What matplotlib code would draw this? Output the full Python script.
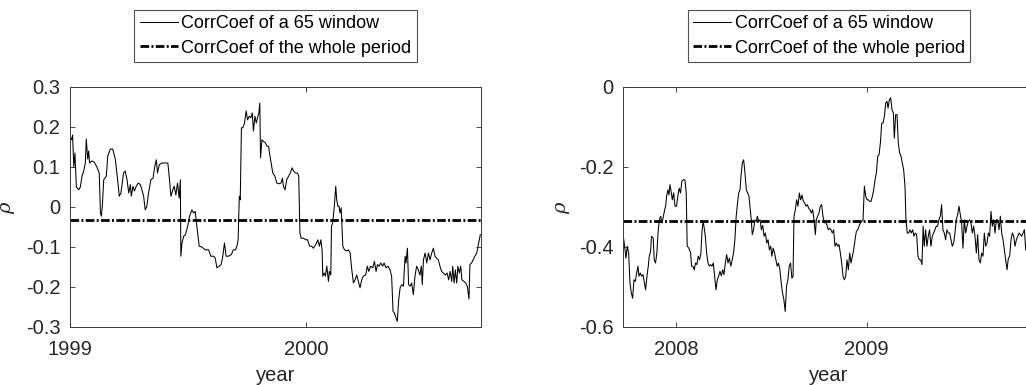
import matplotlib
matplotlib.use("Agg")
import matplotlib.pyplot as plt
import numpy as np

# Rolling 65-day correlation coefficient, 1999-2000
years_a = [1999.000, 1999.007, 1999.011, 1999.016, 1999.021, 1999.027, 1999.037, 1999.044, 1999.051, 1999.058,
           1999.065, 1999.069, 1999.075, 1999.079, 1999.083, 1999.093, 1999.103, 1999.114, 1999.124, 1999.129,
           1999.133, 1999.137, 1999.143, 1999.154, 1999.160, 1999.171, 1999.181, 1999.192, 1999.202, 1999.209,
           1999.216, 1999.227, 1999.234, 1999.242, 1999.249, 1999.256, 1999.260, 1999.267, 1999.273, 1999.281,
           1999.290, 1999.298, 1999.305, 1999.312, 1999.319, 1999.326, 1999.333, 1999.343, 1999.352, 1999.359,
           1999.366, 1999.371, 1999.379, 1999.390, 1999.404, 1999.415, 1999.422, 1999.428, 1999.436, 1999.442,
           1999.449, 1999.456, 1999.463, 1999.468, 1999.470, 1999.475, 1999.482, 1999.489, 1999.499, 1999.507,
           1999.517, 1999.524, 1999.531, 1999.538, 1999.548, 1999.559, 1999.573, 1999.588, 1999.597, 1999.609,
           1999.616, 1999.623, 1999.633, 1999.641, 1999.648, 1999.655, 1999.662, 1999.672, 1999.684, 1999.693,
           1999.702, 1999.708, 1999.713, 1999.718, 1999.722, 1999.727, 1999.733, 1999.740, 1999.747, 1999.753,
           1999.760, 1999.767, 1999.773, 1999.778, 1999.784, 1999.790, 1999.795, 1999.801, 1999.805, 1999.808,
           1999.814, 1999.821, 1999.829, 1999.835, 1999.842, 1999.846, 1999.853, 1999.860, 1999.869, 1999.877,
           1999.887, 1999.895, 1999.901, 1999.905, 1999.912, 1999.919, 1999.927, 1999.934, 1999.942, 1999.948,
           1999.956, 1999.965, 1999.970, 1999.975, 1999.980, 1999.990, 2000.000, 2000.008, 2000.016, 2000.025,
           2000.032, 2000.042, 2000.051, 2000.058, 2000.064, 2000.069, 2000.072, 2000.078, 2000.083, 2000.089,
           2000.096, 2000.100, 2000.106, 2000.109, 2000.114, 2000.121, 2000.127, 2000.131, 2000.136, 2000.141,
           2000.145, 2000.150, 2000.157, 2000.164, 2000.174, 2000.181, 2000.188, 2000.195, 2000.202, 2000.209,
           2000.216, 2000.225, 2000.230, 2000.237, 2000.244, 2000.254, 2000.261, 2000.267, 2000.275, 2000.284,
           2000.291, 2000.298, 2000.304, 2000.311, 2000.318, 2000.326, 2000.332, 2000.340, 2000.349, 2000.357,
           2000.364, 2000.370, 2000.376, 2000.383, 2000.388, 2000.394, 2000.400, 2000.407, 2000.414, 2000.421,
           2000.425, 2000.431, 2000.436, 2000.442, 2000.449, 2000.456, 2000.463, 2000.470, 2000.477, 2000.484,
           2000.490, 2000.494, 2000.499, 2000.506, 2000.513, 2000.520, 2000.527, 2000.534, 2000.541, 2000.548,
           2000.555, 2000.562, 2000.569, 2000.576, 2000.583, 2000.592, 2000.599, 2000.606, 2000.612, 2000.619,
           2000.623, 2000.629, 2000.634, 2000.640, 2000.645, 2000.651, 2000.657, 2000.662, 2000.671, 2000.678,
           2000.685, 2000.692, 2000.696, 2000.703, 2000.710, 2000.717, 2000.725, 2000.732, 2000.736, 2000.740]
rho_a = [0.177, 0.168, 0.180, 0.100, 0.135, 0.050, 0.043, 0.050, 0.077, 0.090,
         0.110, 0.170, 0.120, 0.140, 0.110, 0.115, 0.112, 0.100, 0.085, -0.015,
         -0.023, 0.002, 0.068, 0.077, 0.127, 0.145, 0.145, 0.120, 0.068, 0.027,
         0.035, 0.085, 0.090, 0.068, 0.035, 0.056, 0.027, 0.052, 0.040, 0.052,
         0.060, 0.056, 0.043, 0.028, -0.007, 0.002, 0.035, 0.068, 0.072, 0.100,
         0.118, 0.085, 0.106, 0.110, 0.110, 0.110, 0.068, 0.027, 0.043, 0.052,
         0.030, 0.060, 0.022, 0.068, -0.123, -0.090, -0.073, -0.070, -0.048, -0.023,
         -0.007, -0.015, -0.011, -0.048, -0.098, -0.100, -0.107, -0.107, -0.123, -0.123,
         -0.128, -0.152, -0.148, -0.144, -0.123, -0.090, -0.123, -0.123, -0.119, -0.107,
         -0.107, -0.098, -0.082, 0.027, 0.018, 0.198, 0.198, 0.210, 0.240, 0.218,
         0.227, 0.223, 0.235, 0.190, 0.227, 0.210, 0.223, 0.235, 0.260, 0.123,
         0.168, 0.164, 0.160, 0.152, 0.152, 0.135, 0.110, 0.085, 0.077, 0.060,
         0.058, 0.060, 0.072, 0.052, 0.043, 0.068, 0.077, 0.085, 0.098, 0.090,
         0.085, 0.085, 0.077, -0.065, -0.078, -0.078, -0.082, -0.082, -0.098, -0.098,
         -0.103, -0.094, -0.082, -0.098, -0.082, -0.107, -0.173, -0.165, -0.173, -0.148,
         -0.186, -0.161, -0.170, -0.048, -0.040, 0.002, 0.052, 0.018, 0.002, 0.002,
         -0.015, -0.002, -0.098, -0.107, -0.110, -0.107, -0.115, -0.157, -0.190, -0.182,
         -0.170, -0.190, -0.202, -0.182, -0.173, -0.170, -0.148, -0.161, -0.148, -0.152,
         -0.136, -0.161, -0.144, -0.148, -0.140, -0.148, -0.140, -0.152, -0.148, -0.157,
         -0.173, -0.261, -0.265, -0.278, -0.286, -0.232, -0.202, -0.194, -0.198, -0.123,
         -0.140, -0.103, -0.194, -0.198, -0.190, -0.219, -0.173, -0.148, -0.157, -0.170,
         -0.148, -0.194, -0.132, -0.115, -0.140, -0.115, -0.132, -0.115, -0.103, -0.123,
         -0.128, -0.132, -0.148, -0.161, -0.165, -0.170, -0.165, -0.182, -0.161, -0.186,
         -0.148, -0.190, -0.157, -0.190, -0.148, -0.165, -0.148, -0.182, -0.186, -0.190,
         -0.198, -0.230, -0.144, -0.140, -0.132, -0.123, -0.115, -0.094, -0.082, -0.069]
whole_a = -0.032

# Rolling 65-day correlation coefficient, 2007-2009
years_b = [2007.724, 2007.731, 2007.738, 2007.745, 2007.752, 2007.759, 2007.766, 2007.773, 2007.780, 2007.787,
           2007.794, 2007.801, 2007.806, 2007.813, 2007.820, 2007.827, 2007.836, 2007.841, 2007.848, 2007.855,
           2007.860, 2007.867, 2007.872, 2007.881, 2007.886, 2007.893, 2007.900, 2007.906, 2007.913, 2007.920,
           2007.927, 2007.934, 2007.941, 2007.946, 2007.951, 2007.958, 2007.963, 2007.969, 2007.976, 2007.981,
           2007.988, 2007.995, 2008.003, 2008.010, 2008.017, 2008.024, 2008.031, 2008.038, 2008.047, 2008.054,
           2008.059, 2008.068, 2008.077, 2008.082, 2008.089, 2008.096, 2008.103, 2008.110, 2008.117, 2008.124,
           2008.131, 2008.136, 2008.142, 2008.147, 2008.154, 2008.161, 2008.168, 2008.175, 2008.182, 2008.189,
           2008.196, 2008.203, 2008.210, 2008.217, 2008.224, 2008.231, 2008.238, 2008.245, 2008.252, 2008.259,
           2008.266, 2008.273, 2008.280, 2008.288, 2008.295, 2008.302, 2008.309, 2008.316, 2008.323, 2008.329,
           2008.336, 2008.341, 2008.348, 2008.355, 2008.362, 2008.369, 2008.376, 2008.383, 2008.388, 2008.395,
           2008.400, 2008.407, 2008.414, 2008.421, 2008.427, 2008.434, 2008.441, 2008.448, 2008.455, 2008.462,
           2008.469, 2008.476, 2008.483, 2008.490, 2008.497, 2008.503, 2008.510, 2008.517, 2008.524, 2008.531,
           2008.538, 2008.545, 2008.552, 2008.559, 2008.566, 2008.573, 2008.580, 2008.587, 2008.594, 2008.601,
           2008.608, 2008.614, 2008.619, 2008.626, 2008.633, 2008.640, 2008.647, 2008.654, 2008.661, 2008.668,
           2008.675, 2008.682, 2008.689, 2008.696, 2008.703, 2008.710, 2008.717, 2008.724, 2008.731, 2008.736,
           2008.743, 2008.750, 2008.757, 2008.764, 2008.771, 2008.778, 2008.785, 2008.792, 2008.799, 2008.806,
           2008.813, 2008.820, 2008.827, 2008.834, 2008.841, 2008.848, 2008.855, 2008.862, 2008.869, 2008.876,
           2008.883, 2008.890, 2008.897, 2008.904, 2008.911, 2008.918, 2008.925, 2008.932, 2008.939, 2008.946,
           2008.953, 2008.960, 2008.967, 2008.974, 2008.981, 2008.988, 2008.995, 2009.002, 2009.009, 2009.016,
           2009.023, 2009.030, 2009.037, 2009.044, 2009.051, 2009.058, 2009.065, 2009.072, 2009.079, 2009.086,
           2009.093, 2009.100, 2009.107, 2009.112, 2009.119, 2009.126, 2009.133, 2009.140, 2009.145, 2009.152,
           2009.159, 2009.166, 2009.173, 2009.180, 2009.187, 2009.194, 2009.201, 2009.206, 2009.213, 2009.220,
           2009.227, 2009.234, 2009.241, 2009.248, 2009.255, 2009.262, 2009.269, 2009.276, 2009.283, 2009.290,
           2009.296, 2009.302, 2009.309, 2009.316, 2009.323, 2009.330, 2009.337, 2009.344, 2009.351, 2009.358,
           2009.365, 2009.372, 2009.379, 2009.386, 2009.393, 2009.400, 2009.407, 2009.414, 2009.421, 2009.428,
           2009.435, 2009.442, 2009.449, 2009.456, 2009.463, 2009.470, 2009.477, 2009.484, 2009.491, 2009.498,
           2009.505, 2009.512, 2009.519, 2009.526, 2009.533, 2009.540, 2009.547, 2009.554, 2009.561, 2009.568,
           2009.575, 2009.582, 2009.589, 2009.596, 2009.603, 2009.610, 2009.617, 2009.624, 2009.631, 2009.638,
           2009.645, 2009.652, 2009.659, 2009.666, 2009.673, 2009.680, 2009.687, 2009.694, 2009.701, 2009.708,
           2009.715, 2009.722, 2009.729, 2009.736, 2009.743, 2009.750, 2009.757, 2009.764, 2009.771, 2009.778,
           2009.785, 2009.792, 2009.799, 2009.806, 2009.813, 2009.820, 2009.827, 2009.834]
rho_b = [-0.373, -0.398, -0.428, -0.398, -0.415, -0.490, -0.515, -0.528, -0.482, -0.486,
         -0.465, -0.448, -0.473, -0.465, -0.473, -0.469, -0.494, -0.507, -0.473, -0.448,
         -0.423, -0.411, -0.373, -0.378, -0.432, -0.440, -0.415, -0.365, -0.332, -0.323,
         -0.340, -0.323, -0.307, -0.298, -0.273, -0.257, -0.270, -0.244, -0.265, -0.282,
         -0.265, -0.298, -0.298, -0.273, -0.253, -0.265, -0.236, -0.232, -0.232, -0.265,
         -0.398, -0.403, -0.415, -0.448, -0.448, -0.457, -0.440, -0.444, -0.423, -0.432,
         -0.415, -0.365, -0.336, -0.348, -0.373, -0.415, -0.440, -0.448, -0.444, -0.448,
         -0.440, -0.473, -0.507, -0.482, -0.473, -0.461, -0.472, -0.457, -0.469, -0.440,
         -0.419, -0.440, -0.428, -0.448, -0.432, -0.415, -0.382, -0.323, -0.290, -0.265,
         -0.257, -0.223, -0.190, -0.182, -0.215, -0.257, -0.265, -0.273, -0.298, -0.332,
         -0.369, -0.357, -0.332, -0.336, -0.323, -0.336, -0.332, -0.357, -0.346, -0.373,
         -0.365, -0.390, -0.382, -0.407, -0.398, -0.423, -0.403, -0.415, -0.432, -0.448,
         -0.440, -0.457, -0.490, -0.515, -0.532, -0.561, -0.498, -0.482, -0.448, -0.440,
         -0.478, -0.473, -0.323, -0.307, -0.282, -0.298, -0.265, -0.282, -0.270, -0.286,
         -0.290, -0.298, -0.294, -0.303, -0.307, -0.315, -0.307, -0.332, -0.369, -0.332,
         -0.323, -0.315, -0.298, -0.294, -0.323, -0.340, -0.336, -0.346, -0.357, -0.353,
         -0.357, -0.365, -0.357, -0.398, -0.390, -0.398, -0.394, -0.415, -0.440, -0.473,
         -0.482, -0.473, -0.432, -0.457, -0.415, -0.440, -0.423, -0.407, -0.382, -0.361,
         -0.357, -0.348, -0.340, -0.336, -0.332, -0.248, -0.273, -0.282, -0.282, -0.286,
         -0.286, -0.273, -0.257, -0.232, -0.215, -0.173, -0.169, -0.140, -0.090, -0.090,
         -0.073, -0.040, -0.036, -0.053, -0.032, -0.027, -0.057, -0.065, -0.128, -0.069,
         -0.069, -0.140, -0.165, -0.173, -0.190, -0.207, -0.248, -0.332, -0.365, -0.365,
         -0.357, -0.365, -0.357, -0.373, -0.365, -0.369, -0.423, -0.432, -0.432, -0.444,
         -0.348, -0.398, -0.357, -0.398, -0.373, -0.357, -0.398, -0.373, -0.365, -0.357,
         -0.348, -0.348, -0.332, -0.323, -0.294, -0.357, -0.365, -0.382, -0.357, -0.365,
         -0.365, -0.382, -0.398, -0.390, -0.365, -0.332, -0.319, -0.298, -0.319, -0.340,
         -0.403, -0.332, -0.365, -0.348, -0.336, -0.332, -0.340, -0.365, -0.348, -0.373,
         -0.415, -0.369, -0.432, -0.440, -0.415, -0.423, -0.365, -0.398, -0.390, -0.365,
         -0.373, -0.311, -0.348, -0.332, -0.365, -0.332, -0.332, -0.357, -0.323, -0.365,
         -0.382, -0.407, -0.432, -0.457, -0.428, -0.423, -0.382, -0.365, -0.373, -0.398,
         -0.382, -0.373, -0.365, -0.369, -0.373, -0.365, -0.357, -0.407]
whole_b = -0.335

xlims = [(1999.0, 2000.743), (2007.724, 2009.879)]
xticks = [[1999, 2000], [2008, 2009]]
ylims = [(-0.3, 0.3), (-0.6, 0.0)]
yticks = [[-0.3, -0.2, -0.1, 0.0, 0.1, 0.2, 0.3], [-0.6, -0.4, -0.2, 0.0]]
legend_labels = ["CorrCoef of a 65 window", "CorrCoef of the whole period"]

plt.rcParams["font.family"] = ["Liberation Sans", "DejaVu Sans"]
plt.rcParams["axes.unicode_minus"] = False
plt.rcParams["mathtext.fontset"] = "dejavuserif"

ink = "#262626"
W, H = 1026, 385
fig = plt.figure(figsize=(W / 100, H / 100), dpi=100)

panels = [(years_a, rho_a, whole_a), (years_b, rho_b, whole_b)]
lefts = [70 / W, 623.3 / W]
ylabel_x = [-0.129, -0.125]

for i, (yrs, rho, whole) in enumerate(panels):
    ax = fig.add_axes([lefts[i], 58 / H, 411 / W, 240 / H])
    ax.plot(yrs, rho, color="black", lw=0.75, label=legend_labels[0])
    ax.axhline(whole, color="black", lw=2.0, dashes=(3.1, 0.85, 0.7, 0.85),
               dash_capstyle="butt", label=legend_labels[1])
    ax.set_xlim(*xlims[i])
    ax.set_ylim(*ylims[i])
    ax.set_xticks(xticks[i])
    ax.set_xticklabels([str(t) for t in xticks[i]])
    ax.set_yticks(yticks[i])
    ax.set_yticklabels(["0" if abs(v) < 1e-9 else f"{v:g}" for v in yticks[i]])
    ax.tick_params(direction="in", length=3.5, width=0.6, colors=ink,
                   labelsize=14.5, top=True, right=True)
    ax.tick_params(axis="y", pad=7)
    ax.tick_params(axis="x", pad=9.5)
    for sp in ax.spines.values():
        sp.set_color("#3a3a3a")
        sp.set_linewidth(0.7)
    ax.set_xlabel("year", fontsize=14.5, color=ink, labelpad=5)
    ax.set_ylabel(r"$\rho$", fontsize=14, color=ink)
    ax.yaxis.set_label_coords(ylabel_x[i], 0.5)
    leg = ax.legend(loc="upper center", bbox_to_anchor=(0.5, 1.321),
                    borderaxespad=0, fontsize=13, frameon=True, fancybox=False,
                    edgecolor=ink, handlelength=2.1, handletextpad=0.2,
                    labelspacing=0.4, borderpad=0.3)
    leg.get_frame().set_linewidth(0.8)
    for t in leg.get_texts():
        t.set_color("black")

fig.savefig("out.png", dpi=100)
